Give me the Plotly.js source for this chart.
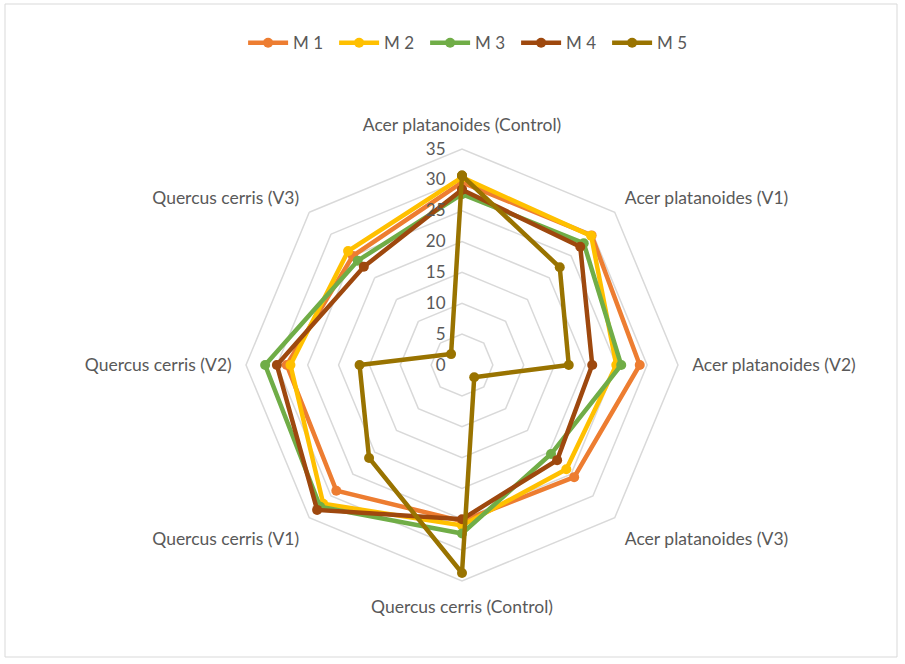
<!DOCTYPE html>
<html>
<head>
<meta charset="utf-8">
<script src="https://cdn.plot.ly/plotly-3.0.1.min.js"></script>
<style>
html,body{margin:0;padding:0;background:#fff;}
#chart{width:905px;height:664px;}
</style>
</head>
<body>
<div id="chart"></div>
<script>
const categories = [
  "Acer platanoides (Control)",
  "Acer platanoides (V1)",
  "Acer platanoides (V2)",
  "Acer platanoides (V3)",
  "Quercus cerris (Control)",
  "Quercus cerris (V1)",
  "Quercus cerris (V2)",
  "Quercus cerris (V3)"
];
const seriesNames = ["M 1", "M 2", "M 3", "M 4", "M 5"];
const m1 = [29.6, 29.7, 28.8, 25.7, 25.3, 28.8, 28.4, 25.0];
const m2 = [30.4, 29.6, 25.0, 23.9, 26.0, 31.8, 27.8, 26.1];
const m3 = [27.7, 27.9, 25.8, 20.4, 27.3, 32.5, 31.9, 23.9];
const m4 = [28.4, 27.1, 21.1, 21.8, 25.0, 33.2, 30.0, 22.5];
const m5 = [30.7, 22.4, 17.3, 2.8, 33.7, 21.3, 16.6, 2.5];
const radialTicks = [0, 5, 10, 15, 20, 25, 30, 35];
const colors = ["#ED7D31", "#FFC000", "#70AD47", "#9E480E", "#997300"];

const allSeries = [m1, m2, m3, m4, m5];
const traces = allSeries.map((vals, i) => ({
  type: "scatterpolar",
  mode: "lines+markers",
  name: seriesNames[i],
  r: vals.concat([vals[0]]),
  theta: categories.concat([categories[0]]),
  line: {color: colors[i], width: 4.5},
  marker: {color: colors[i], size: 10},
  hoverinfo: "name+r+theta"
}));

const R = 216, cx = 462, cy = 365, W = 905, H = 664;
const layout = {
  width: W, height: H,
  margin: {l: 0, r: 0, t: 0, b: 0},
  paper_bgcolor: "#ffffff",
  font: {family: "Lato, 'Open Sans', sans-serif", color: "#595959", size: 17},
  showlegend: true,
  legend: {
    orientation: "h",
    x: 0.52, xanchor: "center",
    y: 0.935, yanchor: "middle",
    font: {size: 17, color: "#595959"},
    itemwidth: 40,
    entrywidth: 36,
    entrywidthmode: "pixels",
    traceorder: "normal"
  },
  polar: {
    domain: {
      x: [(cx - R) / W, (cx + R) / W],
      y: [(H - cy - R) / H, (H - cy + R) / H]
    },
    gridshape: "linear",
    bgcolor: "rgba(0,0,0,0)",
    radialaxis: {
      range: [0, 35],
      tickvals: radialTicks,
      ticktext: radialTicks.map(String),
      angle: 90,
      tickangle: 90,
      side: "counterclockwise",
      showline: false,
      ticks: "outside",
      ticklen: 10,
      tickcolor: "rgba(0,0,0,0)",
      gridcolor: "#d9d9d9",
      gridwidth: 1.5,
      tickfont: {size: 17, color: "#595959"}
    },
    angularaxis: {
      direction: "clockwise",
      rotation: 90,
      showgrid: false,
      linecolor: "#d9d9d9",
      linewidth: 1.5,
      ticks: "outside",
      ticklen: 10,
      tickcolor: "rgba(0,0,0,0)",
      tickfont: {size: 17.5, color: "#595959"}
    }
  },
  shapes: [{
    type: "rect", xref: "paper", yref: "paper",
    x0: 5 / W, x1: 897 / W, y0: 1 - 657 / H, y1: 1 - 4 / H,
    line: {color: "#d9d9d9", width: 1}
  }]
};

Plotly.newPlot("chart", traces, layout, {displayModeBar: false, staticPlot: true});
</script>
</body>
</html>
